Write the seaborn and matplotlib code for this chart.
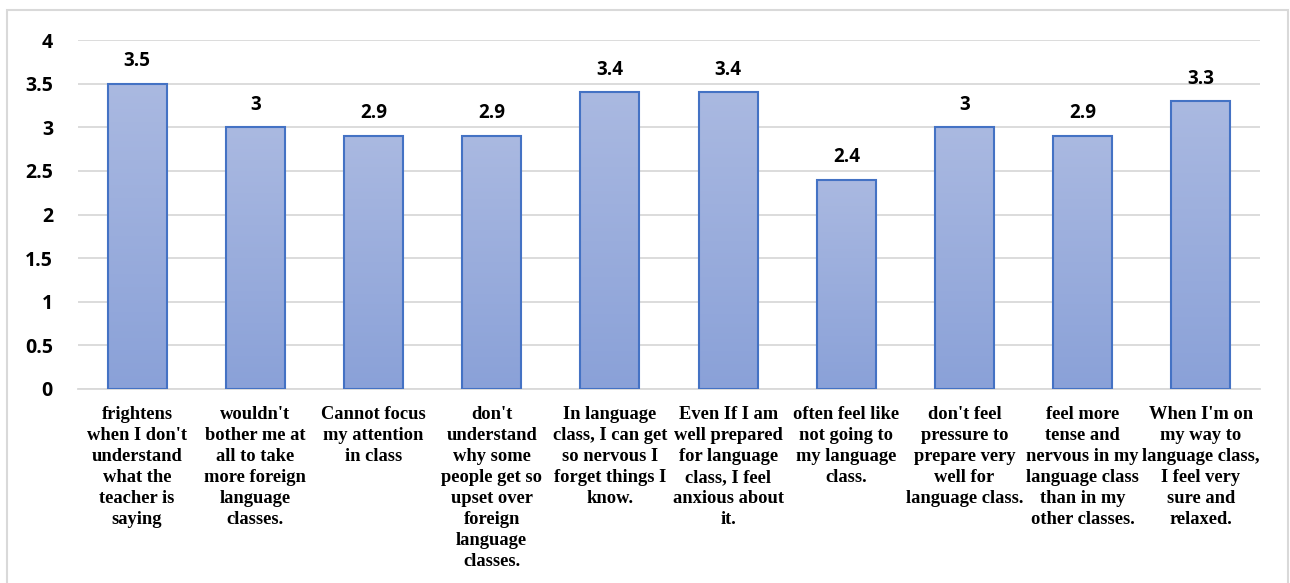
import numpy as np
import pandas as pd
import matplotlib
matplotlib.use("Agg")
import matplotlib.pyplot as plt
from matplotlib.colors import LinearSegmentedColormap
from matplotlib.patches import Rectangle
import seaborn as sns

# Survey statements (wrapped as shown under each bar) and mean scores
statements = [
    "frightens\nwhen I don't\nunderstand\nwhat the\nteacher is\nsaying",
    "wouldn't\nbother me at\nall to take\nmore foreign\nlanguage\nclasses.",
    "Cannot focus\nmy attention\nin class",
    "don't\nunderstand\nwhy some\npeople get so\nupset over\nforeign\nlanguage\nclasses.",
    "In language\nclass, I can get\nso nervous I\nforget things I\nknow.",
    "Even If I am\nwell prepared\nfor language\nclass, I feel\nanxious about\nit.",
    "often feel like\nnot going to\nmy language\nclass.",
    "don't feel\npressure to\nprepare very\nwell for\nlanguage class.",
    "feel more\ntense and\nnervous in my\nlanguage class\nthan in my\nother classes.",
    "When I'm on\nmy way to\nlanguage class,\nI feel very\nsure and\nrelaxed.",
]
scores = [3.5, 3.0, 2.9, 2.9, 3.4, 3.4, 2.4, 3.0, 2.9, 3.3]
score_labels = ["3.5", "3", "2.9", "2.9", "3.4", "3.4", "2.4", "3", "2.9", "3.3"]
y_ticks = [0, 0.5, 1, 1.5, 2, 2.5, 3, 3.5, 4]
y_tick_labels = ["0", "0.5", "1", "1.5", "2", "2.5", "3", "3.5", "4"]

df = pd.DataFrame({"statement": statements, "score": scores})

sns.set_theme(style="white")
plt.rcParams["font.family"] = ["Open Sans", "DejaVu Sans"]

W, H = 1290, 583
fig = plt.figure(figsize=(W / 100, H / 100), dpi=100)
ax = fig.add_axes([78 / W, 1 - 389 / H, (1260 - 78) / W, (389 - 40) / H])

edge = "#4472C4"
sns.barplot(data=df, x="statement", y="score", ax=ax, width=0.5,
            color="#98ADDC", edgecolor=edge, linewidth=1.5, saturation=1)

# Vertical gradient fill clipped to each bar
grad = LinearSegmentedColormap.from_list("bar", ["#8AA1D8", "#AAB9E1"])
ramp = np.linspace(0, 1, 256).reshape(-1, 1)
for patch in ax.patches:
    x0, y0 = patch.get_x(), patch.get_y()
    w, h = patch.get_width(), patch.get_height()
    im = ax.imshow(ramp, cmap=grad, origin="lower", aspect="auto",
                   extent=(x0, x0 + w, y0, y0 + h), zorder=2.5,
                   interpolation="bilinear")
    im.set_clip_path(patch)
    patch.set_facecolor("none")
    patch.set_zorder(3)

ax.set_xlim(-0.5, len(scores) - 0.5)
ax.set_ylim(0, 4)
ax.set_yticks(y_ticks)
ax.set_yticklabels(y_tick_labels, fontsize=14, fontweight="bold",
                   color="#000000")
ax.tick_params(axis="y", length=0, pad=18)
ax.tick_params(axis="x", length=0, pad=12)
ax.set_xticks(range(len(statements)))
ax.set_xticklabels(statements, fontsize=13.3, fontweight="bold",
                   family=["Liberation Serif", "DejaVu Serif"],
                   linespacing=1.31, va="top", ha="center", color="#000000")
ax.set_xlabel("")
ax.set_ylabel("")

ax.yaxis.grid(True, color="#D9D9D9", linewidth=1.3)
ax.set_axisbelow(True)
for side in ["top", "right", "left"]:
    ax.spines[side].set_visible(False)
ax.spines["bottom"].set_color("#D9D9D9")
ax.spines["bottom"].set_linewidth(1.3)

# Value labels above bars
for i, (v, lab) in enumerate(zip(scores, score_labels)):
    ax.annotate(lab, xy=(i, v), xytext=(0, 9), textcoords="offset points",
                ha="center", va="bottom", fontsize=13.5, fontweight="bold",
                color="#000000")

# Chart border
fig.patches.append(Rectangle((7 / W, -0.05), (1288 - 7) / W, 1.05 - 10 / H,
                             transform=fig.transFigure, fill=False,
                             edgecolor="#D9D9D9", linewidth=1.5))

fig.savefig("out.png", dpi=100, facecolor="white")
